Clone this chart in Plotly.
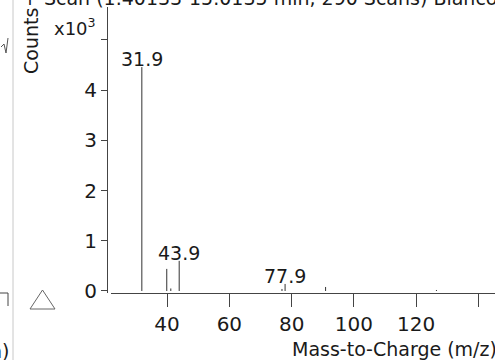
import plotly.graph_objects as go

W, H = 495, 360

# ---- data ----
mz = [31.9, 39.9, 41.2, 43.9, 76.9, 77.9, 90.9, 126.5]
counts = [4460, 440, 50, 600, 40, 140, 80, 20]
labeled = [31.9, 43.9, 77.9]
x_ticks = [40, 60, 80, 100, 120, 140]
y_ticks = [0, 1000, 2000, 3000, 4000, 5000]
y_ticktext = ["0", "1", "2", "3", "4", ""]

FONT = "DejaVu Sans"
TXT = "#1a1a1a"
AX = "#444444"

def px(x):
    return x / W

def py(y):
    return 1 - y / H

sx, sy = [], []
for m, c in zip(mz, counts):
    sx += [m, m, None]
    sy += [0, c, None]

fig = go.Figure()
fig.add_trace(go.Scatter(x=sx, y=sy, mode="lines",
                         line=dict(color="#333333", width=1),
                         hoverinfo="skip", showlegend=False))

annotations = []
for m, c in zip(mz, counts):
    if m in labeled:
        annotations.append(dict(x=m, y=c, xref="x", yref="y", text=f"{m}",
                                showarrow=False, xanchor="center", yanchor="bottom",
                                yshift=-5, font=dict(family=FONT, size=19, color=TXT)))

annotations += [
    dict(x=px(290), y=py(349), xref="paper", yref="paper", text="Mass-to-Charge (m/z)",
         showarrow=False, xanchor="left", yanchor="middle",
         font=dict(family=FONT, size=19, color=TXT)),
    dict(x=px(31), y=py(41), xref="paper", yref="paper", text="Counts", textangle=-90,
         showarrow=False, xanchor="center", yanchor="middle",
         font=dict(family=FONT, size=19, color=TXT)),
    dict(x=px(52), y=py(27), xref="paper", yref="paper", text="x10<sup>3</sup>",
         showarrow=False, xanchor="left", yanchor="middle",
         font=dict(family=FONT, size=18, color=TXT)),
    dict(x=px(20), y=py(11), xref="paper", yref="paper",
         text="+ Scan (1.40133-15.0135 min, 290 Scans) Blanco 4",
         showarrow=False, xanchor="left", yanchor="bottom",
         font=dict(family=FONT, size=19, color=TXT)),
    dict(x=px(11), y=py(351), xref="paper", yref="paper", text="h)",
         showarrow=False, xanchor="right", yanchor="middle",
         font=dict(family=FONT, size=19, color=TXT)),
]

shapes = [
    dict(type="line", xref="paper", yref="paper", x0=px(13), x1=px(13), y0=0, y1=1,
         line=dict(color="#c8c8c8", width=1)),
    dict(type="path", xref="paper", yref="paper",
         path=f"M {px(0)} {py(293)} L {px(8)} {py(293)} L {px(8)} {py(306)}",
         line=dict(color=AX, width=1)),
    dict(type="path", xref="paper", yref="paper",
         path=f"M {px(1)} {py(47)} L {px(4)} {py(44)} L {px(6)} {py(53)} L {px(8)} {py(38)}",
         line=dict(color="#555555", width=1)),
    dict(type="path", xref="paper", yref="paper",
         path=f"M {px(30)} {py(309)} L {px(42.5)} {py(290)} L {px(55)} {py(309)} Z",
         line=dict(color="#666666", width=1), fillcolor="rgba(0,0,0,0)"),
]

fig.update_layout(
    width=W, height=H, autosize=False,
    margin=dict(l=0, r=0, t=0, b=0, autoexpand=False),
    paper_bgcolor="white", plot_bgcolor="white",
    showlegend=False,
    annotations=annotations, shapes=shapes,
    xaxis=dict(domain=[px(111), 1], range=[22.0, 145.3], tickvals=x_ticks,
               ticks="outside", ticklen=13, tickcolor=AX, tickwidth=1,
               showline=True, linecolor=AX, linewidth=1, automargin=False,
               showgrid=False, zeroline=False, anchor="y",
               tickfont=dict(family=FONT, size=20, color=TXT)),
    yaxis=dict(domain=[py(293), py(7)], range=[-40, 5657], tickvals=y_ticks,
               ticktext=y_ticktext, anchor="free", position=px(107),
               ticks="outside", ticklen=6, tickcolor=AX, tickwidth=1,
               showline=True, linecolor=AX, linewidth=1, automargin=False,
               showgrid=False, zeroline=False,
               tickfont=dict(family=FONT, size=20, color=TXT)),
)

fig.write_html("out.html", config={"displayModeBar": False, "responsive": False},
               post_script="document.body.style.margin='0';")
